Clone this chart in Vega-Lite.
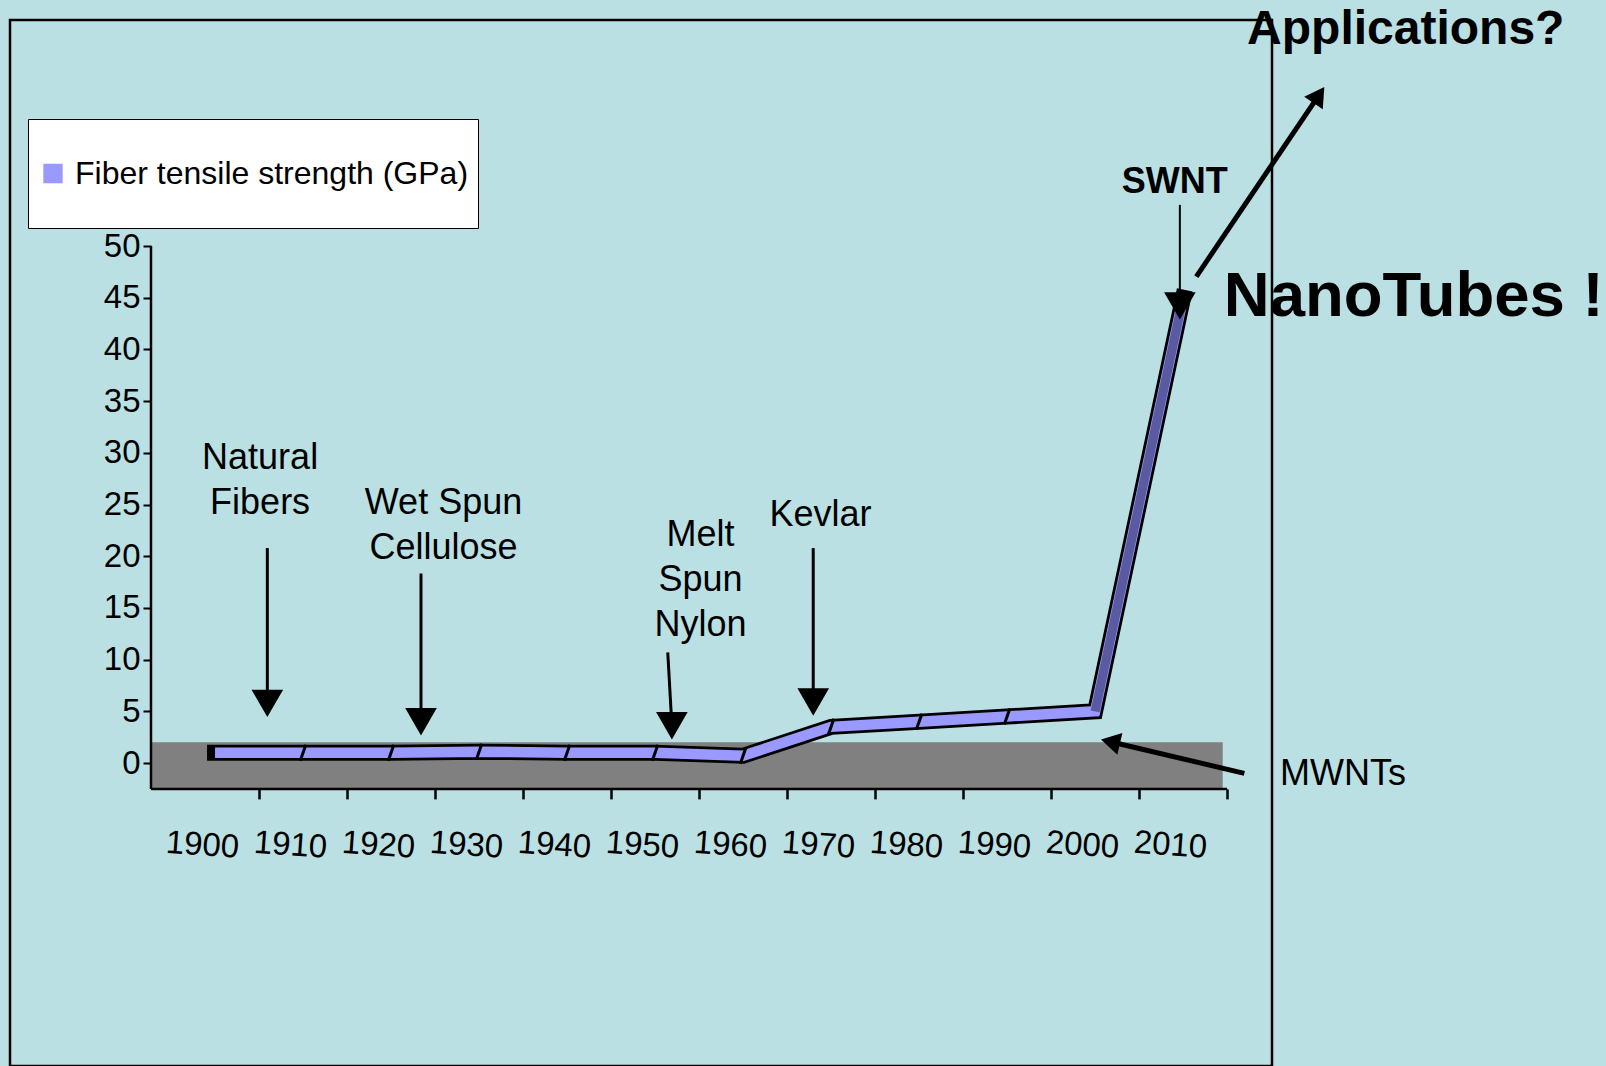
{
  "$schema": "https://vega.github.io/schema/vega-lite/v6.json",
  "width": 1262,
  "height": 1046,
  "autosize": {"type": "none"},
  "padding": {"left": 10, "top": 20, "right": 334, "bottom": 0},
  "background": "#BBE0E3",
  "config": {
    "font": "Liberation Sans",
    "view": {"stroke": "#000000", "strokeWidth": 2.5},
    "axis": {"labelFont": "Liberation Sans", "labelColor": "#000000", "tickColor": "#000000", "grid": false},
    "legend": {"labelFont": "Liberation Sans", "labelColor": "#000000"}
  },
  "datasets": {
    "strength": [
      {"year": 1900, "strength": 1.0, "series": "Fiber tensile strength (GPa)"},
      {"year": 1910, "strength": 1.0, "series": "Fiber tensile strength (GPa)"},
      {"year": 1920, "strength": 1.0, "series": "Fiber tensile strength (GPa)"},
      {"year": 1930, "strength": 1.1, "series": "Fiber tensile strength (GPa)"},
      {"year": 1940, "strength": 1.0, "series": "Fiber tensile strength (GPa)"},
      {"year": 1950, "strength": 1.0, "series": "Fiber tensile strength (GPa)"},
      {"year": 1960, "strength": 0.7, "series": "Fiber tensile strength (GPa)"},
      {"year": 1970, "strength": 3.5, "series": "Fiber tensile strength (GPa)"},
      {"year": 1980, "strength": 4.0, "series": "Fiber tensile strength (GPa)"},
      {"year": 1990, "strength": 4.5, "series": "Fiber tensile strength (GPa)"},
      {"year": 2000, "strength": 5.0, "series": "Fiber tensile strength (GPa)"},
      {"year": 2010, "strength": 45.0, "series": "Fiber tensile strength (GPa)"}
    ],
    "notes": [
      {"text": "Natural\nFibers", "x": 1905.12, "y": 29.5},
      {"text": "Wet Spun\nCellulose", "x": 1925.96, "y": 25.15},
      {"text": "Melt\nSpun\nNylon", "x": 1955.17, "y": 22.05},
      {"text": "Kevlar", "x": 1968.79, "y": 23.98}
    ],
    "arrows": [
      {"label": "Natural", "x": 1905.94, "y": 20.79, "x2": 1905.94, "y2": 5.77},
      {"label": "Wet", "x": 1923.4, "y": 18.33, "x2": 1923.4, "y2": 3.99},
      {"label": "Melt", "x": 1951.44, "y": 10.7, "x2": 1951.91, "y2": 3.6},
      {"label": "Kevlar", "x": 1967.97, "y": 20.79, "x2": 1967.97, "y2": 5.9},
      {"label": "SWNT", "x": 2009.63, "y": 53.98, "x2": 2009.63, "y2": 44.21}
    ],
    "diag": [
      {"label": "Applications", "x": 2011.5, "y": 47.05, "x2": 2025.43, "y2": 64.6},
      {"label": "MWNTs", "x": 2016.96, "y": -1.0, "x2": 2001.74, "y2": 2.06}
    ]
  },
  "layer": [
    {
      "data": {"values": [{}]},
      "mark": {"type": "rect", "color": "#808080"},
      "encoding": {
        "x": {"datum": 1892.72, "type": "quantitative", "scale": {"domain": [1876.7, 2020.1], "nice": false, "zero": false}, "title": null},
        "x2": {"datum": 2014.5},
        "y": {"datum": 2, "type": "quantitative", "scale": {"domain": [-29.3, 71.86], "nice": false, "zero": false}, "title": null},
        "y2": {"datum": -2.5}
      }
    },
    {
      "data": {"values": [{}]},
      "mark": {"type": "rule", "color": "#000000", "strokeWidth": 2.5},
      "encoding": {
        "x": {"datum": 1892.72, "type": "quantitative", "scale": {"domain": [1876.7, 2020.1], "nice": false, "zero": false}, "title": null},
        "x2": {"datum": 2015},
        "y": {"datum": -2.5, "type": "quantitative", "scale": {"domain": [-29.3, 71.86], "nice": false, "zero": false}, "title": null}
      }
    },
    {
      "data": {"values": [{}]},
      "mark": {"type": "rule", "color": "#000000", "strokeWidth": 2.5},
      "encoding": {
        "x": {"datum": 1892.72, "type": "quantitative", "scale": {"domain": [1876.7, 2020.1], "nice": false, "zero": false}, "title": null},
        "y": {"datum": -2.5, "type": "quantitative", "scale": {"domain": [-29.3, 71.86], "nice": false, "zero": false}, "title": null},
        "y2": {"datum": 50}
      }
    },
    {
      "data": {"name": "strength"},
      "mark": {"type": "line", "color": "#000000", "strokeWidth": 16, "strokeJoin": "miter", "strokeCap": "square"},
      "encoding": {
        "x": {"field": "year", "type": "quantitative", "scale": {"domain": [1876.7, 2020.1], "nice": false, "zero": false}, "title": null},
        "y": {"field": "strength", "type": "quantitative", "scale": {"domain": [-29.3, 71.86], "nice": false, "zero": false}, "title": null}
      }
    },
    {
      "data": {"name": "strength"},
      "mark": {"type": "line", "strokeWidth": 10.5, "strokeJoin": "miter", "strokeCap": "butt"},
      "encoding": {
        "x": {
          "field": "year", "type": "quantitative",
          "scale": {"domain": [1876.7, 2020.1], "nice": false, "zero": false},
          "title": null,
          "axis": {
            "orient": "bottom", "offset": -277.1, "title": null,
            "values": [1895, 1900, 1905, 1910, 1915, 1920, 1925, 1930, 1935, 1940, 1945, 1950, 1955, 1960, 1965, 1970, 1975, 1980, 1985, 1990, 1995, 2000, 2005, 2010, 2015],
            "format": "d",
            "labelExpr": "datum.value % 10 === 0 ? datum.label : ''",
            "tickOpacity": {"condition": {"test": "datum.value % 10 === 5 && datum.value > 1900", "value": 1}, "value": 0},
            "tickSize": 10, "tickWidth": 2.5, "domain": false, "grid": false,
            "labelFontSize": 33, "labelPadding": 30, "labelAngle": 4, "labelAlign": "center", "labelBaseline": "top",
            "labelOverlap": false, "labelFlush": false, "labelBound": false, "labelOffset": -12
          }
        },
        "y": {
          "field": "strength", "type": "quantitative",
          "scale": {"domain": [-29.3, 71.86], "nice": false, "zero": false},
          "title": null,
          "axis": {
            "orient": "left", "offset": -141, "title": null,
            "values": [0, 5, 10, 15, 20, 25, 30, 35, 40, 45, 50],
            "domain": false, "grid": false, "tickSize": 8, "tickWidth": 2,
            "labelFontSize": 33, "labelPadding": 3, "labelOverlap": false, "labelFlush": false, "labelBound": false
          }
        },
        "color": {
          "field": "series", "type": "nominal",
          "scale": {"range": ["#9999FF"]},
          "legend": {
            "orient": "none", "legendX": 18, "legendY": 99, "title": null,
            "fillColor": "#FFFFFF", "strokeColor": "#000000", "padding": 9,
            "symbolType": "square", "symbolSize": 300, "symbolStrokeWidth": 2,
            "symbolFillColor": "#9999FF", "symbolStrokeColor": "#000000",
            "labelFontSize": 32, "labelLimit": 800, "labelOffset": 6, "clipHeight": 91
          }
        }
      }
    },
    {
      "data": {"name": "strength"},
      "transform": [{"filter": "datum.year >= 2000"}],
      "mark": {"type": "line", "color": "#5A5AA0", "strokeWidth": 9, "strokeCap": "butt"},
      "encoding": {
        "x": {"field": "year", "type": "quantitative", "scale": {"domain": [1876.7, 2020.1], "nice": false, "zero": false}, "title": null},
        "y": {"field": "strength", "type": "quantitative", "scale": {"domain": [-29.3, 71.86], "nice": false, "zero": false}, "title": null}
      }
    },
    {
      "data": {"name": "strength"},
      "transform": [{"filter": "datum.year > 1900 && datum.year < 2000"}],
      "mark": {"type": "point", "shape": "M0.35,-1L-0.35,1", "filled": false, "stroke": "#000000", "strokeWidth": 3, "size": 256, "opacity": 1},
      "encoding": {
        "x": {"field": "year", "type": "quantitative", "scale": {"domain": [1876.7, 2020.1], "nice": false, "zero": false}, "title": null},
        "y": {"field": "strength", "type": "quantitative", "scale": {"domain": [-29.3, 71.86], "nice": false, "zero": false}, "title": null}
      }
    },
    {
      "data": {"name": "arrows"},
      "mark": {"type": "rule", "color": "#000000"},
      "encoding": {
        "x": {"field": "x", "type": "quantitative", "scale": {"domain": [1876.7, 2020.1], "nice": false, "zero": false}, "title": null},
        "y": {"field": "y", "type": "quantitative", "scale": {"domain": [-29.3, 71.86], "nice": false, "zero": false}, "title": null},
        "x2": {"field": "x2"},
        "y2": {"field": "y2"},
        "strokeWidth": {"condition": {"test": "datum.label === 'SWNT'", "value": 2}, "value": 3}
      }
    },
    {
      "data": {"name": "arrows"},
      "mark": {"type": "point", "shape": "triangle-down", "filled": true, "color": "#000000", "size": 1000, "opacity": 1},
      "encoding": {
        "x": {"field": "x2", "type": "quantitative", "scale": {"domain": [1876.7, 2020.1], "nice": false, "zero": false}, "title": null},
        "y": {"field": "y2", "type": "quantitative", "scale": {"domain": [-29.3, 71.86], "nice": false, "zero": false}, "title": null}
      }
    },
    {
      "data": {"name": "diag"},
      "mark": {"type": "rule", "color": "#000000", "strokeWidth": 5},
      "encoding": {
        "x": {"field": "x", "type": "quantitative", "scale": {"domain": [1876.7, 2020.1], "nice": false, "zero": false}, "title": null},
        "y": {"field": "y", "type": "quantitative", "scale": {"domain": [-29.3, 71.86], "nice": false, "zero": false}, "title": null},
        "x2": {"field": "x2"},
        "y2": {"field": "y2"}
      }
    },
    {
      "data": {"name": "diag"},
      "transform": [{"filter": "datum.label === 'Applications'"}],
      "mark": {"type": "point", "shape": "triangle-up", "filled": true, "color": "#000000", "size": 500, "angle": 34, "opacity": 1},
      "encoding": {
        "x": {"field": "x2", "type": "quantitative", "scale": {"domain": [1876.7, 2020.1], "nice": false, "zero": false}, "title": null},
        "y": {"field": "y2", "type": "quantitative", "scale": {"domain": [-29.3, 71.86], "nice": false, "zero": false}, "title": null}
      }
    },
    {
      "data": {"name": "diag"},
      "transform": [{"filter": "datum.label === 'MWNTs'"}],
      "mark": {"type": "point", "shape": "triangle-up", "filled": true, "color": "#000000", "size": 500, "angle": 283, "opacity": 1},
      "encoding": {
        "x": {"field": "x2", "type": "quantitative", "scale": {"domain": [1876.7, 2020.1], "nice": false, "zero": false}, "title": null},
        "y": {"field": "y2", "type": "quantitative", "scale": {"domain": [-29.3, 71.86], "nice": false, "zero": false}, "title": null}
      }
    },
    {
      "data": {"name": "notes"},
      "mark": {"type": "text", "fontSize": 36, "align": "center", "baseline": "middle", "lineBreak": "\n", "lineHeight": 45, "color": "#000000"},
      "encoding": {
        "x": {"field": "x", "type": "quantitative", "scale": {"domain": [1876.7, 2020.1], "nice": false, "zero": false}, "title": null},
        "y": {"field": "y", "type": "quantitative", "scale": {"domain": [-29.3, 71.86], "nice": false, "zero": false}, "title": null},
        "text": {"field": "text"}
      }
    },
    {
      "data": {"values": [{"text": "SWNT", "x": 2009.06, "y": 56.16}]},
      "mark": {"type": "text", "fontSize": 36, "fontWeight": "bold", "align": "center", "baseline": "middle", "color": "#000000"},
      "encoding": {
        "x": {"field": "x", "type": "quantitative", "scale": {"domain": [1876.7, 2020.1], "nice": false, "zero": false}, "title": null},
        "y": {"field": "y", "type": "quantitative", "scale": {"domain": [-29.3, 71.86], "nice": false, "zero": false}, "title": null},
        "text": {"field": "text"}
      }
    },
    {
      "data": {"values": [{"text": "NanoTubes !", "x": 2014.63, "y": 45.07}]},
      "mark": {"type": "text", "fontSize": 63.5, "fontWeight": "bold", "align": "left", "baseline": "middle", "color": "#000000"},
      "encoding": {
        "x": {"field": "x", "type": "quantitative", "scale": {"domain": [1876.7, 2020.1], "nice": false, "zero": false}, "title": null},
        "y": {"field": "y", "type": "quantitative", "scale": {"domain": [-29.3, 71.86], "nice": false, "zero": false}, "title": null},
        "text": {"field": "text"}
      }
    },
    {
      "data": {"values": [{"text": "Applications?", "x": 2035.3, "y": 70.92}]},
      "mark": {"type": "text", "fontSize": 48, "fontWeight": "bold", "align": "center", "baseline": "middle", "color": "#000000"},
      "encoding": {
        "x": {"field": "x", "type": "quantitative", "scale": {"domain": [1876.7, 2020.1], "nice": false, "zero": false}, "title": null},
        "y": {"field": "y", "type": "quantitative", "scale": {"domain": [-29.3, 71.86], "nice": false, "zero": false}, "title": null},
        "text": {"field": "text"}
      }
    },
    {
      "data": {"values": [{"text": "MWNTs", "x": 2021.01, "y": -1.06}]},
      "mark": {"type": "text", "fontSize": 36, "align": "left", "baseline": "middle", "color": "#000000"},
      "encoding": {
        "x": {"field": "x", "type": "quantitative", "scale": {"domain": [1876.7, 2020.1], "nice": false, "zero": false}, "title": null},
        "y": {"field": "y", "type": "quantitative", "scale": {"domain": [-29.3, 71.86], "nice": false, "zero": false}, "title": null},
        "text": {"field": "text"}
      }
    }
  ]
}
